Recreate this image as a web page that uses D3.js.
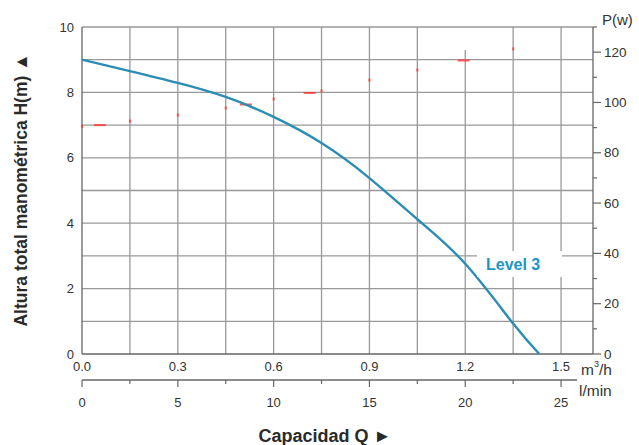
<!DOCTYPE html>
<html><head><meta charset="utf-8">
<script src="https://cdn.jsdelivr.net/npm/d3@7"></script>
<style>body{margin:0;background:#fff}svg{display:block;font-family:"Liberation Sans",Arial,sans-serif}</style>
</head><body>
<script>
// Data
const flowQ = [0, 0.15, 0.3, 0.45, 0.6, 0.75, 0.9, 1.05, 1.2, 1.35, 1.432];
const headH = [9.0, 8.65, 8.29, 7.86, 7.25, 6.45, 5.38, 4.12, 2.76, 0.93, 0];
const qTicks = [0.0, 0.3, 0.6, 0.9, 1.2, 1.5];
const hTicks = [0, 2, 4, 6, 8, 10];
const pTicks = [0, 20, 40, 60, 80, 100, 120];
const lTicks = [0, 5, 10, 15, 20, 25];
// faint red power-curve remnants
const powerDotQ = [0, 0.15, 0.3, 0.45, 0.6, 0.75, 0.9, 1.05, 1.35];
const powerDotP = [90.5, 92.6, 95, 97.8, 101.4, 104.6, 108.9, 112.9, 121.3];
const powerDashQ = [0.056, 0.513, 0.713, 1.195];
const powerDashP = [91, 99.2, 103.8, 116.7];

const W = 639, H = 445;
const svg = d3.select("body").append("svg").attr("width", W).attr("height", H);

const x = d3.scaleLinear([0, 1.6], [82, 593]);
const y = d3.scaleLinear([0, 10], [354, 27]);
const yP = d3.scaleLinear([0, 130], [354, 27]);
const xL = d3.scaleLinear([0, 1.6 * 1000 / 60], [82, 593]);

const gridC = "#999", axisC = "#666", textC = "#333";

// grid
const g = svg.append("g");
const vq = d3.range(1, 11).map(i => i * 0.15);
vq.forEach(q => {
  const top = Math.abs(q - 1.2) < 1e-6 ? y(9.3) : y(10);
  g.append("line").attr("x1", x(q)).attr("x2", x(q)).attr("y1", top).attr("y2", y(0))
    .attr("stroke", gridC).attr("stroke-width", 1.3);
});
d3.range(1, 11).forEach(h => {
  g.append("line").attr("x1", x(0)).attr("x2", x(1.6)).attr("y1", y(h)).attr("y2", y(h))
    .attr("stroke", gridC).attr("stroke-width", 1.3);
});
// frame
svg.append("line").attr("x1", x(0)).attr("x2", x(0)).attr("y1", y(10)).attr("y2", y(0)).attr("stroke", axisC).attr("stroke-width", 1.3);
svg.append("line").attr("x1", x(0)).attr("x2", x(1.6)).attr("y1", y(0)).attr("y2", y(0)).attr("stroke", axisC).attr("stroke-width", 1.5);
svg.append("line").attr("x1", x(1.6)).attr("x2", x(1.6)).attr("y1", y(10)).attr("y2", y(0)).attr("stroke", axisC).attr("stroke-width", 1.3);

// red remnants
powerDotQ.forEach((q, i) => {
  svg.append("rect").attr("x", x(q) - 1).attr("y", yP(powerDotP[i]) - 1.5).attr("width", 2).attr("height", 3).attr("fill", "#f33").attr("opacity", 0.8);
});
powerDashQ.forEach((q, i) => {
  svg.append("rect").attr("x", x(q) - 6).attr("y", yP(powerDashP[i]) - 1).attr("width", 12).attr("height", 2).attr("fill", "#f33").attr("opacity", 0.8);
});

// curve
const line = d3.line().x(d => x(d[0])).y(d => y(d[1])).curve(d3.curveNatural);
svg.append("path").datum(flowQ.map((q, i) => [q, headH[i]])).attr("d", line)
  .attr("fill", "none").attr("stroke", "#2b8db3").attr("stroke-width", 2.4);

// Level 3 label
svg.append("rect").attr("x", 477).attr("y", 251).attr("width", 85).attr("height", 26).attr("fill", "#fff");
svg.append("text").attr("x", 486).attr("y", 269.5).attr("font-size", 16).attr("font-weight", "bold")
  .attr("fill", "#1d96c4").text("Level 3");

// left axis labels
hTicks.forEach(h => {
  svg.append("text").attr("x", 74).attr("y", y(h)).attr("dy", "0.35em").attr("text-anchor", "end")
    .attr("font-size", 13).attr("fill", textC).text(h);
});
// bottom m3/h labels
qTicks.forEach(q => {
  svg.append("text").attr("x", x(q)).attr("y", 371).attr("text-anchor", "middle")
    .attr("font-size", 13).attr("fill", textC).text(q.toFixed(1));
});
// right axis
d3.range(0, 131, 10).forEach(p => {
  const major = p % 20 === 0;
  svg.append("line").attr("x1", x(1.6)).attr("x2", x(1.6) + (major ? 8 : 4)).attr("y1", yP(p)).attr("y2", yP(p))
    .attr("stroke", axisC).attr("stroke-width", 1.2);
});
pTicks.forEach(p => {
  svg.append("text").attr("x", 604).attr("y", yP(p)).attr("dy", "0.35em")
    .attr("font-size", 13.5).attr("fill", textC).text(p);
});
svg.append("text").attr("x", 602).attr("y", 25).attr("font-size", 15).attr("fill", textC).text("P(w)");

// l/min axis
svg.append("line").attr("x1", xL(0)).attr("x2", 577).attr("y1", 380).attr("y2", 380).attr("stroke", axisC).attr("stroke-width", 1.3);
d3.range(0, 26, 2.5).forEach(v => {
  const major = v % 5 === 0;
  svg.append("line").attr("x1", xL(v)).attr("x2", xL(v)).attr("y1", 380).attr("y2", 380 + (major ? 7 : 4))
    .attr("stroke", axisC).attr("stroke-width", 1.2);
});
lTicks.forEach(v => {
  svg.append("text").attr("x", xL(v)).attr("y", 407).attr("text-anchor", "middle")
    .attr("font-size", 13).attr("fill", textC).text(v);
});
// units
const mt = svg.append("text").attr("x", 581).attr("y", 375).attr("font-size", 15.5).attr("fill", textC);
mt.append("tspan").text("m");
mt.append("tspan").attr("font-size", 9).attr("dy", -8).text("3");
mt.append("tspan").attr("dy", 8).text("/h");
svg.append("text").attr("x", 579).attr("y", 396).attr("font-size", 15.5).attr("fill", textC).text("l/min");

// axis titles
svg.append("text").attr("transform", "translate(27,190) rotate(-90)").attr("text-anchor", "middle")
  .attr("font-size", 17.5).attr("font-weight", "bold").attr("fill", "#2a2a2a").text("Altura total manométrica H(m) \u25B2");
svg.append("text").attr("x", 325).attr("y", 442).attr("text-anchor", "middle")
  .attr("font-size", 18).attr("font-weight", "bold").attr("fill", "#2a2a2a").text("Capacidad Q \u25BA");
</script>
</body></html>
